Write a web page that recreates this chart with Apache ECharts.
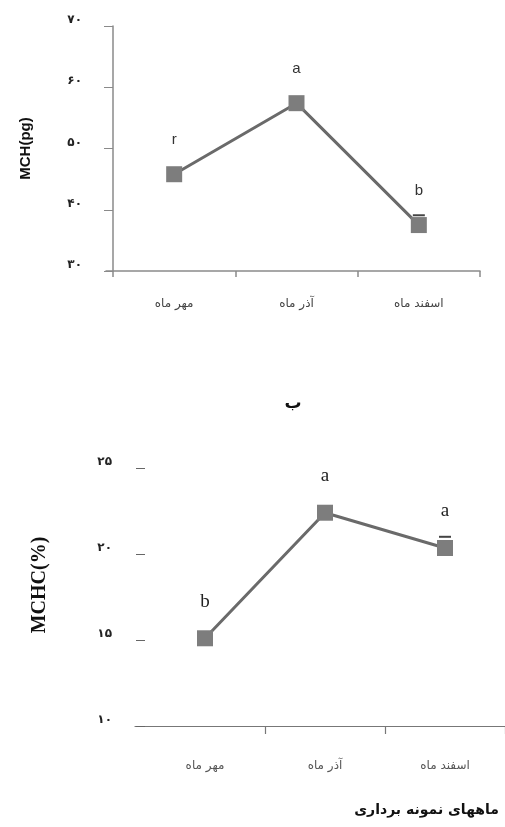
<!DOCTYPE html>
<html>
<head>
<meta charset="utf-8">
<script src="https://cdn.jsdelivr.net/npm/echarts@6/dist/echarts.min.js"></script>
<style>html,body{margin:0;padding:0;background:#fff}#c{width:505px;height:827px}</style>
</head>
<body>
<div id="c"></div>
<script>
// ---- data ----
const categories = ['مهر ماه', 'آذر ماه', 'اسفند ماه'];
const mchValues = [45.8, 57.4, 37.5];
const mchErr = [0.8, 0.8, 1.6];
const mchLetters = ['r', 'a', 'b'];
const mchcValues = [15.1, 22.4, 20.35];
const mchcErr = [0.3, 0.3, 0.65];
const mchcLetters = ['b', 'a', 'a'];
const mchTicks = ['۳۰', '۴۰', '۵۰', '۶۰', '۷۰'];
const mchcTicks = ['۱۰', '۱۵', '۲۰', '۲۵'];
const panelTitle = 'ب';
const xTitle = 'ماههای نمونه برداری';

const chart = echarts.init(document.getElementById('c'));
const axisGray = '#8a8a8a';
const lineColor = '#6a6a6a';
const markerColor = '#7d7d7d';

function errSeries(xi, yi, vals, errs) {
  return {
    type: 'custom', xAxisIndex: xi, yAxisIndex: yi, z: 1, silent: true,
    data: vals.map((v, i) => [i, v + errs[i]]),
    renderItem: function (params, api) {
      const p = api.coord([api.value(0), api.value(1)]);
      return { type: 'line', shape: { x1: p[0] - 6, y1: p[1], x2: p[0] + 6, y2: p[1] },
               style: { stroke: '#444', lineWidth: 2 } };
    }
  };
}

const option = {
  animation: false,
  backgroundColor: '#fff',
  grid: [
    { left: 113, right: 25, top: 26, height: 245 },
    { left: 145, right: -3, top: 468, height: 258 },
    { left: 106, right: 25, top: 26, height: 245 },
    { left: 135, right: 0, top: 468, height: 258 }
  ],
  xAxis: [
    { type: 'category', gridIndex: 0, data: categories, boundaryGap: true,
      axisLine: { show: false },
      axisTick: { show: true, length: 6, lineStyle: { color: axisGray, width: 1.5 } },
      axisLabel: { margin: 27, fontSize: 12, color: '#444', fontFamily: 'DejaVu Sans' } },
    { type: 'category', gridIndex: 1, data: categories, boundaryGap: true,
      axisLine: { show: false },
      axisTick: { show: true, length: 8, interval: (i) => i !== 0, lineStyle: { color: '#777', width: 1.2 } },
      axisLabel: { margin: 34, fontSize: 12, color: '#555', fontFamily: 'DejaVu Sans' } },
    { type: 'value', gridIndex: 2, min: 0, max: 1, show: true,
      axisLine: { show: true, lineStyle: { color: axisGray, width: 1.5 } },
      axisTick: { show: false }, axisLabel: { show: false }, splitLine: { show: false } },
    { type: 'value', gridIndex: 3, min: 0, max: 1, show: true,
      axisLine: { show: true, lineStyle: { color: '#777', width: 1.2 } },
      axisTick: { show: false }, axisLabel: { show: false }, splitLine: { show: false } }
  ],
  yAxis: [
    { type: 'value', gridIndex: 0, min: 30, max: 70, interval: 10,
      name: 'MCH(pg)', nameLocation: 'middle', nameRotate: 90, nameGap: 80,
      nameTextStyle: { fontFamily: 'Liberation Sans', fontWeight: 'bold', fontSize: 15, color: '#111' },
      axisLine: { show: true, lineStyle: { color: axisGray, width: 1.5 } },
      axisTick: { show: true, length: 9, lineStyle: { color: axisGray, width: 1 } },
      splitLine: { show: false },
      axisLabel: { margin: 31, fontSize: 12, fontWeight: 'bold', color: '#222', verticalAlign: 'bottom',
        fontFamily: 'DejaVu Sans', formatter: v => mchTicks[Math.round((v - 30) / 10)] } },
    { type: 'value', gridIndex: 1, min: 10, max: 25, interval: 5,
      axisLine: { show: false },
      axisTick: { show: true, length: 9, lineStyle: { color: '#666', width: 1 } },
      splitLine: { show: false },
      axisLabel: { margin: 33, fontSize: 12, fontWeight: 'bold', color: '#222', verticalAlign: 'bottom',
        fontFamily: 'DejaVu Sans', formatter: v => mchcTicks[Math.round((v - 10) / 5)] } },
    { type: 'value', gridIndex: 2, show: false, min: 0, max: 1 },
    { type: 'value', gridIndex: 3, show: false, min: 0, max: 1 }
  ],
  graphic: [
    { type: 'text', x: 293, y: 404,
      style: { text: panelTitle, fontSize: 17, fontWeight: 'bold', fill: '#111', fontFamily: 'DejaVu Sans', align: 'center', verticalAlign: 'middle' } },
    { type: 'text', x: 40, y: 585, rotation: Math.PI / 2,
      style: { text: 'MCHC(%)', fontFamily: 'Liberation Serif', fontWeight: 'bold', fontSize: 20, fill: '#111', align: 'center', verticalAlign: 'middle' } },
    { type: 'text', right: 6, top: 803, style: { text: xTitle, fontSize: 14, fontWeight: 'bold', fill: '#111', fontFamily: 'DejaVu Sans' } }
  ],
  series: [
    { type: 'line', xAxisIndex: 0, yAxisIndex: 0, data: mchValues, z: 3,
      symbol: 'rect', symbolSize: 16,
      lineStyle: { color: lineColor, width: 3 },
      itemStyle: { color: markerColor },
      label: { show: true, position: 'top', distance: 19, fontSize: 15, color: '#333', fontFamily: 'Liberation Sans',
        formatter: p => mchLetters[p.dataIndex] } },
    errSeries(0, 0, mchValues, mchErr),
    { type: 'line', xAxisIndex: 1, yAxisIndex: 1, data: mchcValues, z: 3,
      symbol: 'rect', symbolSize: 16,
      lineStyle: { color: lineColor, width: 3 },
      itemStyle: { color: markerColor },
      label: { show: true, position: 'top', distance: 19, fontSize: 19, color: '#222', fontFamily: 'Liberation Serif',
        formatter: p => mchcLetters[p.dataIndex] } },
    errSeries(1, 1, mchcValues, mchcErr)
  ]
};
chart.setOption(option);
</script>
</body>
</html>
